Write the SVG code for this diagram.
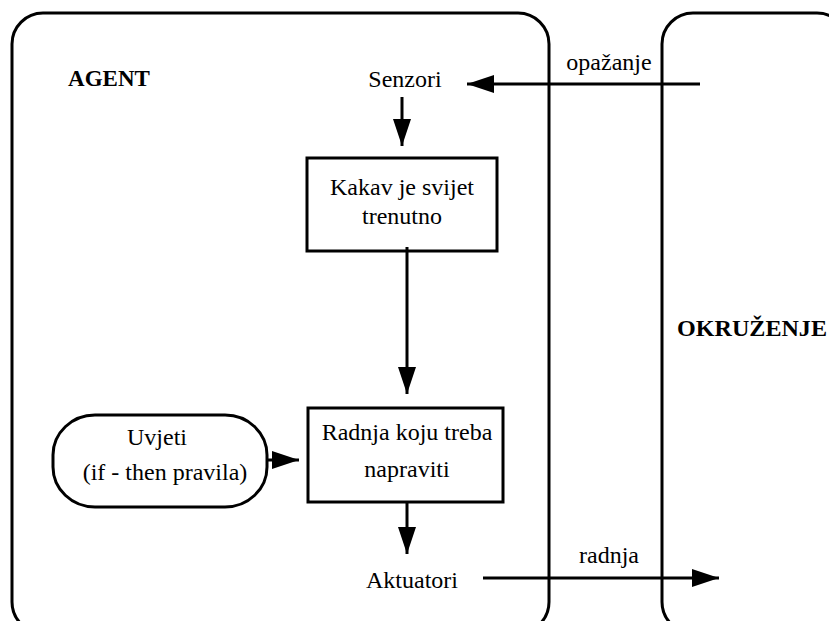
<svg xmlns="http://www.w3.org/2000/svg" width="829" height="621" viewBox="0 0 829 621">
<style>
.frame{fill:none;stroke:#000;stroke-width:3}
.box{fill:#fff;stroke:#000;stroke-width:3}
text{font-family:'Liberation Serif','Times New Roman',Times,'DejaVu Serif',serif;font-size:24px;fill:#000;text-anchor:middle}
.b{font-weight:bold;font-size:23px}
.c{fill:none;stroke:#000;stroke-width:3}
</style>
<defs>
<marker id="ah" markerUnits="userSpaceOnUse" markerWidth="27" markerHeight="18" viewBox="0 0 27 18" refX="27" refY="9" orient="auto">
<path d="M0,0 L27,9 L0,18 Z" fill="#000"/>
</marker>
</defs>
<rect width="829" height="621" fill="#fff"/>
<g id="agent">
<rect class="frame" x="12" y="13" width="537" height="620" rx="31" ry="31"/>
<text class="b" x="109" y="86" font-family="Liberation Serif, serif">AGENT</text>
</g>
<g id="okruzenje">
<rect class="frame" x="662" y="13" width="186" height="620" rx="31" ry="31"/>
<text class="b" x="752" y="336" font-family="Liberation Serif, serif" textLength="150" lengthAdjust="spacingAndGlyphs">OKRUŽENJE</text>
</g>
<g id="senzori">
<text x="405" y="87" font-family="Liberation Serif, serif">Senzori</text>
</g>
<g id="kakav">
<rect class="box" x="307" y="158" width="190" height="93"/>
<text x="402" y="195" font-family="Liberation Serif, serif">Kakav je svijet</text>
<text x="402" y="224" font-family="Liberation Serif, serif">trenutno</text>
</g>
<g id="uvjeti">
<rect class="box" x="53" y="415" width="214" height="92" rx="42" ry="40"/>
<text x="157" y="445" font-family="Liberation Serif, serif">Uvjeti</text>
<text x="165" y="480" font-family="Liberation Serif, serif">(if - then pravila)</text>
</g>
<g id="radnja-koju">
<rect class="box" x="308" y="408" width="195" height="94"/>
<text x="407" y="440" font-family="Liberation Serif, serif">Radnja koju treba</text>
<text x="407" y="477" font-family="Liberation Serif, serif">napraviti</text>
</g>
<g id="aktuatori">
<text x="412" y="588" font-family="Liberation Serif, serif">Aktuatori</text>
</g>
<g id="connectors">
<line class="c" x1="700" y1="84" x2="467" y2="84" marker-end="url(#ah)"/>
<line class="c" x1="402" y1="97" x2="402" y2="146" marker-end="url(#ah)"/>
<line class="c" x1="407" y1="247" x2="407" y2="394" marker-end="url(#ah)"/>
<line class="c" x1="267" y1="460" x2="299" y2="460" marker-end="url(#ah)"/>
<line class="c" x1="407" y1="502" x2="407" y2="554" marker-end="url(#ah)"/>
<line class="c" x1="483" y1="578" x2="719" y2="578" marker-end="url(#ah)"/>
<text x="609" y="70" font-family="Liberation Serif, serif">opažanje</text>
<text x="609" y="563" font-family="Liberation Serif, serif">radnja</text>
</g>
</svg>
